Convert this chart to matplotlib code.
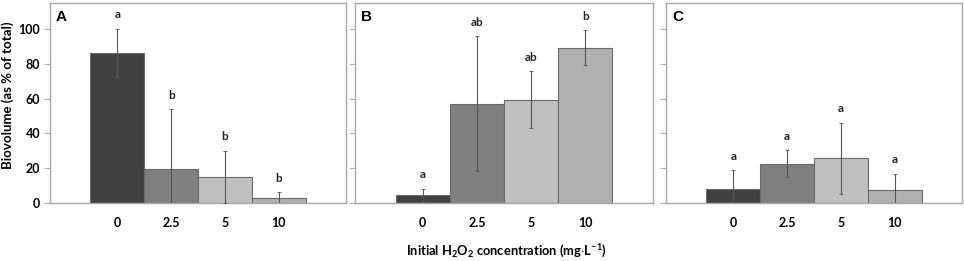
import matplotlib
matplotlib.use("Agg")
import matplotlib.pyplot as plt
import numpy as np

# data
concentrations = ["0", "2.5", "5", "10"]
panel_names = ["A", "B", "C"]
means_a = [86.2, 19.5, 15.0, 2.7]
errs_a = [14.0, 34.5, 15.0, 3.4]
letters_a = ["a", "b", "b", "b"]
means_b = [4.6, 57.1, 59.4, 89.3]
errs_b = [3.7, 38.9, 16.3, 10.0]
letters_b = ["a", "ab", "ab", "b"]
means_c = [8.0, 22.6, 25.7, 7.7]
errs_c = [10.8, 7.7, 20.5, 9.2]
letters_c = ["a", "a", "a", "a"]

bar_colors = ["#404040", "#808080", "#c0c0c0", "#b0b0b0"]

plt.rcParams['font.family'] = ['Lato', 'DejaVu Sans']
plt.rcParams['font.weight'] = 'bold'
plt.rcParams['mathtext.fontset'] = 'custom'
plt.rcParams['mathtext.rm'] = 'Lato:bold'
plt.rcParams['mathtext.it'] = 'Lato:bold'
plt.rcParams['mathtext.bf'] = 'Lato:bold'
plt.rcParams['mathtext.default'] = 'rm'

W, H = 964, 261
fig = plt.figure(figsize=(W / 100, H / 100), dpi=100)

# axes boxes in pixels: left, right
boxes = [(50, 346), (355, 653), (666, 962)]
top_px, bottom_px = 3, 203

panels = [(means_a, errs_a, letters_a),
          (means_b, errs_b, letters_b),
          (means_c, errs_c, letters_c)]

x = np.arange(len(concentrations))
for i, ((l, r), (means, errs, letters)) in enumerate(zip(boxes, panels)):
    ax = fig.add_axes([l / W, (H - bottom_px) / H, (r - l) / W, (bottom_px - top_px) / H])
    ax.bar(x, means, width=1.0, color=bar_colors, edgecolor='#6a6a6a',
           linewidth=0.8, zorder=2)
    ax.errorbar(x, means, yerr=errs, fmt='none', ecolor='#555555',
                elinewidth=0.8, capsize=1.2, capthick=0.6, zorder=3)
    for xi, m, e, lab in zip(x, means, errs, letters):
        ax.text(xi, m + e + 8, lab, ha='center', va='center', fontsize=8.5,
                fontweight='bold', color='#222222')
    ax.set_xlim(-1.25, 4.25)
    ax.set_ylim(0, 115)
    ax.set_yticks(range(0, 101, 20))
    ax.set_xticks(x)
    ax.set_xticklabels(concentrations, fontsize=9, fontweight='bold')
    ax.tick_params(axis='x', length=0, pad=10)
    ax.tick_params(axis='y', length=4, width=0.8, color='#b0b0b0',
                   labelsize=9, pad=3)
    for s in ax.spines.values():
        s.set_color('#a8a8a8')
        s.set_linewidth(1.0)
    if i == 0:
        for t in ax.get_yticklabels():
            t.set_fontweight('bold')
        ax.set_ylabel("Biovolume (as % of total)", fontsize=9.5, fontweight='bold')
        ax.yaxis.set_label_coords(-0.12, 0.54)
    else:
        ax.set_yticklabels([])
    ax.text(0.02, 0.965, panel_names[i], transform=ax.transAxes, ha='left',
            va='top', fontsize=11, fontweight='bold', family='Liberation Sans')

fig.text(506 / W, 1 - 251 / H, r'Initial H$_2$O$_2$ concentration (mg$\cdot$L$^{-1}$)',
         ha='center', va='center', fontsize=9.3, fontweight='bold')

fig.savefig("out.png", dpi=100, facecolor='white')
